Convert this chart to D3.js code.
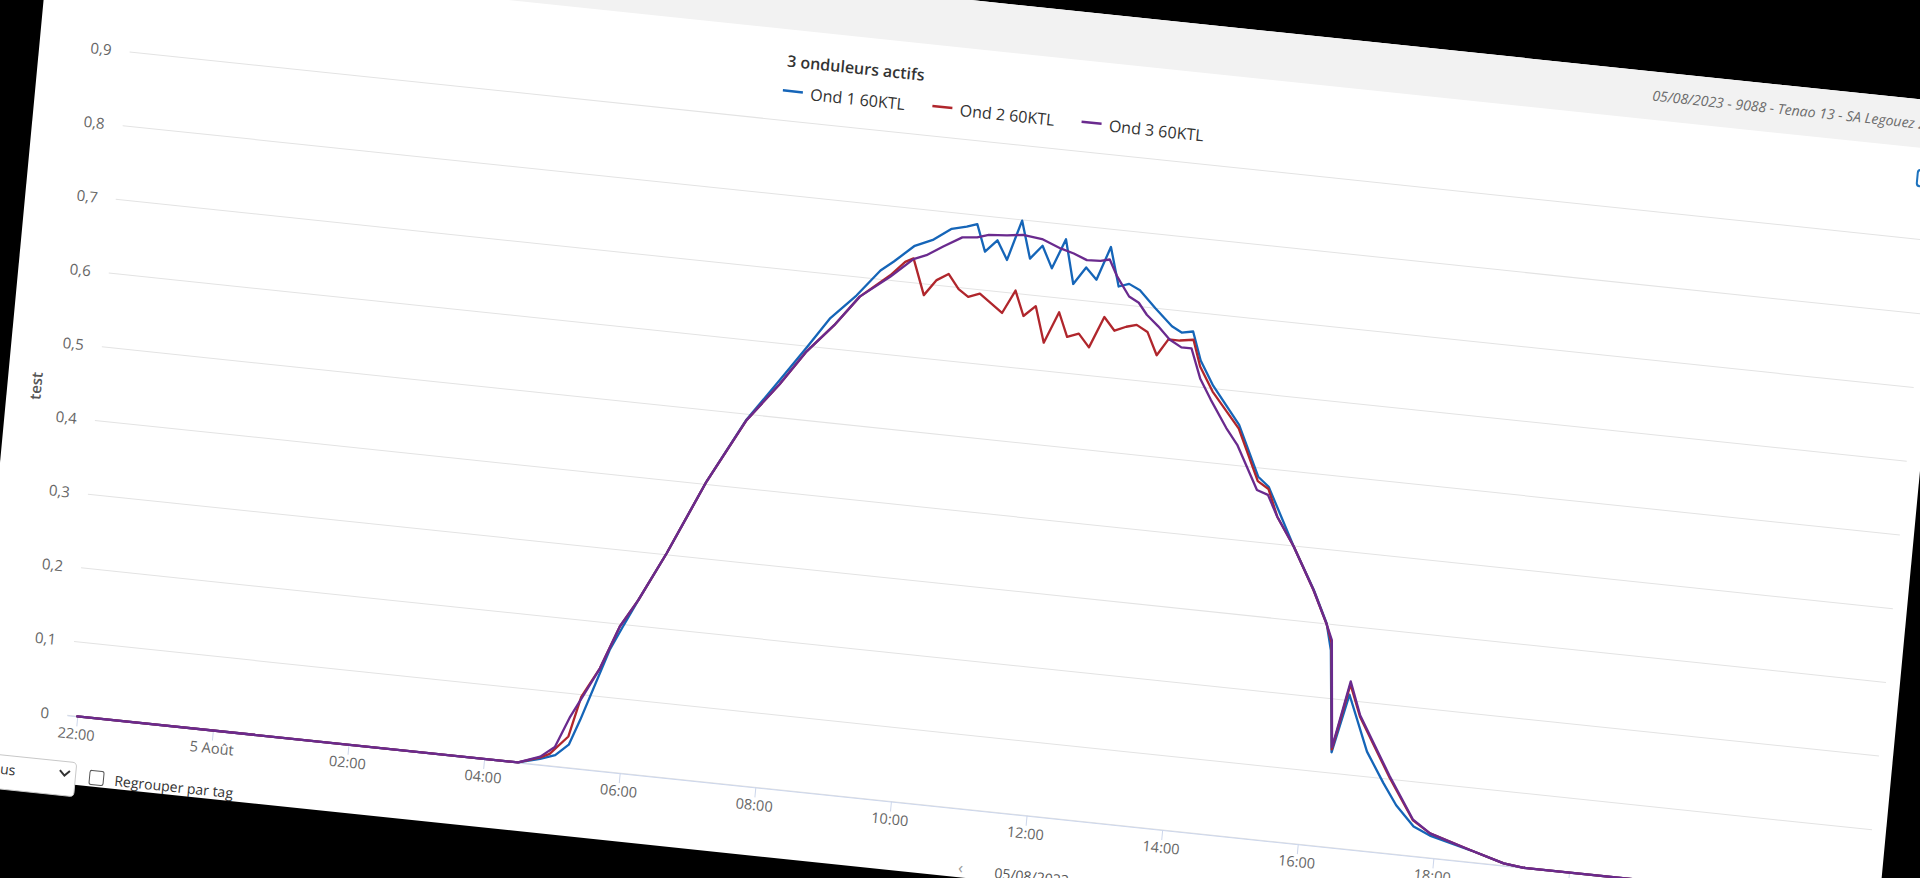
<!DOCTYPE html>
<html><head><meta charset="utf-8">
<script src="https://cdn.jsdelivr.net/npm/d3@7"></script>
<style>html,body{margin:0;padding:0;background:#000;overflow:hidden}svg{display:block}</style>
</head><body>
<svg id="c" width="1920" height="878"></svg>
<script>
const chartTitle = "3 onduleurs actifs";
const headerText = "05/08/2023 - 9088 - Tenao 13 - SA Legouez 2";
const yAxisTitle = "test";
const seriesNames = ["Ond 1 60KTL", "Ond 2 60KTL", "Ond 3 60KTL"];
const seriesColors = ["#1565b8", "#b0262c", "#6a2a8e"];
const yTicks = [0, 0.1, 0.2, 0.3, 0.4, 0.5, 0.6, 0.7, 0.8, 0.9];
const yTickLabels = ["0", "0,1", "0,2", "0,3", "0,4", "0,5", "0,6", "0,7", "0,8", "0,9"];
const xTickTimes = ["04 22:00","05 00:00","05 02:00","05 04:00","05 06:00","05 08:00","05 10:00","05 12:00","05 14:00","05 16:00","05 18:00","05 20:00","05 22:00","06 00:00"];
const xTickLabels = ["22:00","5 Août","02:00","04:00","06:00","08:00","10:00","12:00","14:00","16:00","18:00","20:00","22:00","6 Août"];
const xDomain = ["04 21:51", "06 00:22"];
const yDomain = [0, 0.9];

const ond1Times = ["04 22:00","05 04:30","05 04:49","05 05:02","05 05:13","05 05:21","05 05:41","05 05:50","05 06:02","05 06:23","05 06:52","05 07:22","05 07:48","05 08:09","05 08:27","05 08:48","05 09:07","05 09:18","05 09:35","05 09:51","05 10:06","05 10:19","05 10:28","05 10:37","05 10:47","05 10:57","05 11:07","05 11:17","05 11:27","05 11:37","05 11:47","05 11:57","05 12:07","05 12:17","05 12:27","05 12:37","05 12:46","05 12:56","05 13:11","05 13:27","05 13:36","05 13:46","05 13:55","05 14:08","05 14:34","05 14:55","05 15:05","05 15:32","05 15:53","05 16:07","05 16:13","05 16:22","05 16:33","05 16:53","05 17:10","05 17:23","05 17:40","05 17:55","05 18:32","05 19:02","05 19:20","05 22:00"];
const ond1Values = [0,0,0.008,0.015,0.031,0.066,0.164,0.195,0.235,0.302,0.404,0.493,0.551,0.599,0.641,0.675,0.712,0.726,0.750,0.761,0.778,0.783,0.788,0.752,0.769,0.744,0.799,0.749,0.768,0.739,0.780,0.721,0.745,0.730,0.776,0.724,0.729,0.722,0.700,0.678,0.671,0.674,0.636,0.604,0.555,0.488,0.476,0.399,0.344,0.301,0.265,0.128,0.208,0.134,0.094,0.066,0.040,0.030,0.016,0.003,0,0];

const ond2Times = ["04 22:00","05 04:30","05 04:49","05 04:57","05 05:12","05 05:20","05 05:34","05 05:48","05 06:02","05 06:23","05 06:52","05 07:22","05 07:48","05 08:09","05 08:31","05 08:51","05 09:16","05 09:28","05 09:35","05 09:47","05 09:57","05 10:07","05 10:17","05 10:26","05 10:36","05 10:57","05 11:07","05 11:16","05 11:26","05 11:36","05 11:47","05 11:56","05 12:06","05 12:16","05 12:27","05 12:37","05 12:47","05 12:56","05 13:06","05 13:16","05 13:25","05 13:35","05 13:47","05 13:55","05 14:08","05 14:34","05 14:55","05 15:05","05 15:15","05 15:32","05 15:53","05 16:07","05 16:13","05 16:22","05 16:33","05 16:44","05 17:15","05 17:39","05 17:55","05 18:32","05 19:02","05 19:20","05 22:00"];
const ond2Values = [0,0,0.010,0.016,0.042,0.097,0.138,0.197,0.235,0.302,0.404,0.492,0.545,0.593,0.632,0.674,0.707,0.727,0.733,0.685,0.707,0.717,0.698,0.689,0.695,0.672,0.704,0.671,0.686,0.638,0.681,0.649,0.655,0.638,0.681,0.664,0.671,0.675,0.667,0.637,0.660,0.660,0.663,0.628,0.596,0.550,0.482,0.473,0.437,0.399,0.343,0.300,0.275,0.132,0.222,0.180,0.102,0.048,0.033,0.016,0.003,0,0];

const ond3Times = ["04 22:00","05 04:30","05 04:49","05 05:01","05 05:12","05 05:22","05 05:34","05 05:48","05 06:02","05 06:23","05 06:52","05 07:22","05 07:48","05 08:09","05 08:31","05 08:51","05 09:16","05 09:35","05 09:46","05 10:00","05 10:16","05 10:29","05 10:39","05 10:55","05 11:09","05 11:26","05 11:43","05 11:55","05 12:07","05 12:19","05 12:27","05 12:35","05 12:47","05 12:56","05 13:04","05 13:15","05 13:26","05 13:37","05 13:46","05 13:56","05 14:07","05 14:23","05 14:34","05 14:55","05 15:05","05 15:15","05 15:32","05 15:53","05 16:07","05 16:13","05 16:22","05 16:33","05 16:44","05 17:15","05 17:39","05 17:55","05 18:32","05 19:02","05 19:20","05 22:00"];
const ond3Values = [0,0,0.011,0.026,0.069,0.100,0.138,0.197,0.235,0.302,0.404,0.492,0.545,0.593,0.632,0.674,0.705,0.732,0.739,0.753,0.768,0.770,0.775,0.777,0.780,0.777,0.767,0.762,0.755,0.756,0.759,0.737,0.712,0.705,0.690,0.676,0.660,0.651,0.651,0.612,0.585,0.549,0.528,0.470,0.465,0.437,0.399,0.343,0.300,0.279,0.135,0.226,0.182,0.104,0.049,0.033,0.016,0.003,0,0];

const parseT = d3.timeParse("%d %H:%M");
const FONT = "'Open Sans', 'Noto Sans', sans-serif";

// tilt of the photographed screen
const M = { a: 1, b: 0.1047, c: -0.0942, d: 1, e: 52.65, f: -96.17 };
const toImageY = (sx, sy) => M.b * sx + M.d * sy + M.f;

const svg = d3.select("#c");
svg.append("rect").attr("width", 1920).attr("height", 878).attr("fill", "#000");

const g = svg.append("g").attr("transform", `matrix(${M.a},${M.b},${M.c},${M.d},${M.e},${M.f})`);
g.append("rect").attr("x", 0).attr("y", 0).attr("width", 1902).attr("height", 870).attr("fill", "#fff");
g.append("rect").attr("x", 0).attr("y", 0).attr("width", 1902).attr("height", 48).attr("fill", "#f2f2f2");

g.append("text").attr("x", 1602).attr("y", 29).attr("font-family", FONT).attr("font-style", "italic")
  .attr("font-size", 14).attr("fill", "#6b6b6b").text(headerText);
g.append("rect").attr("x", 1872).attr("y", 70).attr("width", 16).attr("height", 16).attr("rx", 3)
  .attr("fill", "none").attr("stroke", "#1e73be").attr("stroke-width", 2);

const x = d3.scaleTime().domain(xDomain.map(parseT)).range([90, 1888]);
const y = d3.scaleLinear().domain(yDomain).range([802, 138.7]);

// grid
g.append("g").selectAll("line").data(yTicks).join("line")
  .attr("x1", 90).attr("x2", 1888).attr("y1", d => y(d)).attr("y2", d => y(d))
  .attr("stroke", "#e3e3e3").attr("stroke-width", 1);

// y axis labels
const yAx = g.append("g").attr("transform", "translate(90,0)")
  .call(d3.axisLeft(y).tickValues(yTicks).tickFormat((d, i) => yTickLabels[i]).tickSize(0).tickPadding(18));
yAx.select(".domain").remove();
yAx.selectAll("text").attr("font-family", FONT).attr("font-size", 15).attr("fill", "#666");

// x axis
const xAx = g.append("g").attr("transform", `translate(0,${y(0)})`)
  .call(d3.axisBottom(x).tickValues(xTickTimes.map(parseT)).tickFormat((d, i) => xTickLabels[i])
    .tickSize(10).tickSizeOuter(0).tickPadding(2.5));
xAx.select(".domain").attr("stroke", "#ccd6eb");
xAx.selectAll(".tick line").attr("stroke", "#ccd6eb");
xAx.selectAll("text").attr("font-family", FONT).attr("font-size", 14.5).attr("fill", "#666");
// labels that fall entirely below the photographed area are not drawn
xAx.selectAll(".tick").filter(d => toImageY(x(d), y(0) + 12) > 878).select("text").remove();

// y axis title
g.append("text").attr("transform", "translate(34,479) rotate(-90)").attr("text-anchor", "middle")
  .attr("font-family", FONT).attr("font-size", 15).attr("font-weight", 600).attr("fill", "#555").text(yAxisTitle);

// series
const allSeries = [
  ond1Times.map((t, i) => ({ t: parseT(t), v: ond1Values[i] })),
  ond2Times.map((t, i) => ({ t: parseT(t), v: ond2Values[i] })),
  ond3Times.map((t, i) => ({ t: parseT(t), v: ond3Values[i] }))
];
const line = d3.line().x(d => x(d.t)).y(d => y(d.v));
g.append("g").selectAll("path").data(allSeries).join("path")
  .attr("d", line).attr("fill", "none")
  .attr("stroke", (d, i) => seriesColors[i]).attr("stroke-width", 2.3)
  .attr("stroke-linejoin", "round").attr("stroke-linecap", "round");

// legend with title
const lg = g.append("g");
lg.append("text").attr("x", 742).attr("y", 85).attr("font-family", FONT).attr("font-size", 16)
  .attr("font-weight", 600).attr("fill", "#333").text(chartTitle);
const legendX = [750.5, 900, 1049.2];
const items = lg.selectAll("g.item").data(seriesNames).join("g").attr("class", "item")
  .attr("transform", (d, i) => `translate(${legendX[i]},0)`);
items.append("line").attr("x1", -10).attr("x2", 10).attr("y1", 109).attr("y2", 109)
  .attr("stroke", (d, i) => seriesColors[i]).attr("stroke-width", 2.5);
items.append("text").attr("x", 17.5).attr("y", 116).attr("font-family", FONT).attr("font-size", 16)
  .attr("fill", "#333").text(d => d);

// bottom controls (cut off by the photo)
g.append("rect").attr("x", -40).attr("y", 848).attr("width", 144).attr("height", 34).attr("rx", 4)
  .attr("fill", "#fff").attr("stroke", "#c8c8c8");
g.append("text").attr("x", 44).attr("y", 867).attr("text-anchor", "end").attr("font-family", FONT)
  .attr("font-size", 14).attr("fill", "#333").text("Tous");
g.append("path").attr("d", "M88,857 l5,5 l5,-5").attr("fill", "none").attr("stroke", "#333").attr("stroke-width", 2);
g.append("rect").attr("x", 118).attr("y", 854).attr("width", 14).attr("height", 14).attr("rx", 2)
  .attr("fill", "#fff").attr("stroke", "#555");
g.append("text").attr("x", 143).attr("y", 867).attr("font-family", FONT).attr("font-size", 14)
  .attr("fill", "#333").text("Regrouper par tag");
g.append("text").attr("x", 989).attr("y", 866).attr("text-anchor", "middle").attr("font-family", FONT)
  .attr("font-size", 16).attr("fill", "#999").text("‹");
g.append("text").attr("x", 1023).attr("y", 867).attr("font-family", FONT)
  .attr("font-size", 14).attr("fill", "#555").text("05/08/2023");
g.append("text").attr("x", 1127).attr("y", 866).attr("text-anchor", "middle").attr("font-family", FONT)
  .attr("font-size", 16).attr("fill", "#999").text("›");
g.append("rect").attr("x", 1146).attr("y", 855).attr("width", 12).attr("height", 12).attr("rx", 2)
  .attr("fill", "none").attr("stroke", "#1e73be").attr("stroke-width", 1.5);
</script>
</body></html>
